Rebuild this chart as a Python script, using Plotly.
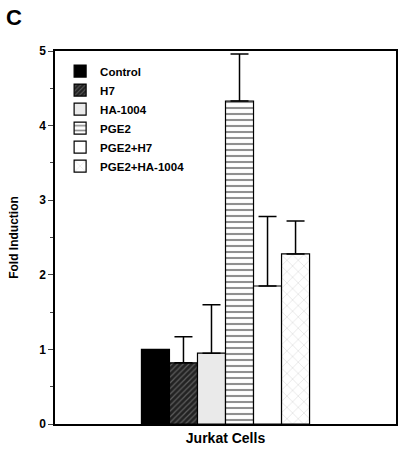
import plotly.graph_objects as go

categories = ["Jurkat Cells"]
series_names = ["Control", "H7", "HA-1004", "PGE2", "PGE2+H7", "PGE2+HA-1004"]
values = [1.0, 0.82, 0.95, 4.33, 1.85, 2.28]
errors = [0.0, 0.35, 0.65, 0.63, 0.93, 0.44]
y_ticks = [0, 1, 2, 3, 4, 5]

styles = [
    dict(color="black", pattern=dict(shape="")),
    dict(color="#222", pattern=dict(shape="/", fgcolor="#9a9a9a", bgcolor="#222", size=4, solidity=0.3)),
    dict(color="white", pattern=dict(shape=".", fgcolor="#a0a0a0", bgcolor="white", size=2, solidity=0.5)),
    dict(color="white", pattern=dict(shape="-", fgcolor="#222", bgcolor="white", size=6, solidity=0.35)),
    dict(color="white", pattern=dict(shape="")),
    dict(color="white", pattern=dict(shape="x", fgcolor="#a8a8a8", bgcolor="white", size=8, solidity=0.12)),
]

FONT = "Arial, Liberation Sans, sans-serif"

fig = go.Figure()
for name, v, e, st in zip(series_names, values, errors, styles):
    fig.add_trace(go.Bar(
        x=categories, y=[v], name="<b>" + name + "</b>",
        marker=dict(color=st["color"], pattern=st["pattern"],
                    line=dict(color="black", width=1.2)),
        error_y=dict(type="data", symmetric=False, array=[e], arrayminus=[0],
                     visible=e > 0, color="black", thickness=1.5, width=9),
    ))

fig.update_layout(
    width=400, height=450,
    margin=dict(l=55, r=4, t=51, b=26),
    paper_bgcolor="white", plot_bgcolor="white",
    barmode="group", bargap=0.507, bargroupgap=0,
    font=dict(family=FONT, color="black"),
    showlegend=True,
    legend=dict(x=0.015, y=0.985, xanchor="left", yanchor="top",
                bgcolor="rgba(0,0,0,0)", font=dict(size=11.5, family=FONT),
                tracegroupgap=0, itemwidth=30),
    xaxis=dict(showline=True, linecolor="black", linewidth=1.5, mirror=True, automargin=False,
               ticks="", tickfont=dict(size=14), showgrid=False,
               tickvals=categories, ticktext=["<b>" + c + "</b>" for c in categories]),
    yaxis=dict(range=[0, 5], showline=True, linecolor="black", linewidth=1.5, mirror=True,
               automargin=False,
               tickvals=y_ticks, ticktext=["<b>%d</b>" % t for t in y_ticks],
               ticks="outside", ticklen=5, tickwidth=1, tickfont=dict(size=12),
               minor=dict(dtick=0.5, ticks="outside", ticklen=3, tickwidth=1),
               showgrid=False, zeroline=False,
               title=dict(text="<b>Fold Induction</b>", font=dict(size=12), standoff=18)),
    annotations=[dict(text="<b>C</b>", x=-0.15, y=1.13, xref="paper", yref="paper",
                      xanchor="left", yanchor="top", showarrow=False, font=dict(size=22))],
)

fig.write_html("out.html", config={"displayModeBar": False},
               post_script="document.body.style.margin='0';document.body.style.overflow='hidden';")
